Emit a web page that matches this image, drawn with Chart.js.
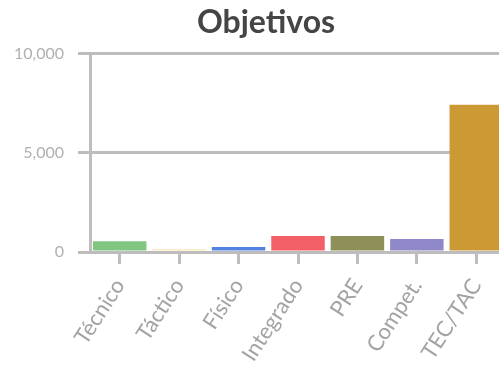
<!DOCTYPE html>
<html>
<head>
<meta charset="utf-8">
<script src="https://cdn.jsdelivr.net/npm/chart.js@4"></script>
<style>
html,body{margin:0;padding:0;background:#fff;overflow:hidden;width:499px;height:373px;}
#wrap{width:532px;height:373px;}
</style>
</head>
<body>
<div id="wrap"><canvas id="c" width="532" height="373"></canvas></div>
<script>
const categories = ["Técnico", "Táctico", "Físico", "Integrado", "PRE", "Compet.", "TEC/TAC"];
const values = [540, 140, 250, 800, 800, 650, 7420];
const barColors = ["#80c680", "#fce7b4", "#5283e2", "#f25f66", "#8f8f58", "#8f89c9", "#cd9934"];
const yTicks = [0, 5000, 10000];
const gridGray = "#bdbdbd";

new Chart(document.getElementById("c"), {
  type: "bar",
  data: {
    labels: categories,
    datasets: [{
      data: values,
      backgroundColor: barColors,
      borderWidth: 0,
      barPercentage: 0.9,
      categoryPercentage: 1.0
    }]
  },
  options: {
    responsive: false,
    animation: false,
    layout: { padding: 0 },
    plugins: {
      legend: { display: false },
      tooltip: { enabled: false },
      title: {
        display: true,
        text: "Objetivos",
        color: "#454545",
        font: { family: "Lato", size: 32, weight: "bold" },
        padding: { top: 3, bottom: 12 }
      }
    },
    scales: {
      x: {
        grid: {
          display: true,
          drawOnChartArea: false,
          offset: false,
          color: gridGray,
          lineWidth: 3,
          tickLength: 12
        },
        border: { display: false },
        ticks: {
          color: "#a3a3a3",
          font: { family: "Lato", size: 22 },
          minRotation: 57,
          maxRotation: 57,
          padding: 10
        },
        afterFit: (s) => { s.height = 121; }
      },
      y: {
        min: 0,
        max: 10000,
        afterBuildTicks: (s) => { s.ticks = yTicks.map(v => ({ value: v })); },
        grid: {
          color: gridGray,
          lineWidth: 3,
          tickLength: 12
        },
        border: { display: true, color: gridGray, width: 3 },
        ticks: {
          color: "#b0b0b0",
          font: { family: "Lato", size: 16 },
          padding: 14
        },
        afterFit: (s) => { s.width = 90; }
      },
      yRight: {
        position: "right",
        min: 0,
        max: 10000,
        grid: { display: false },
        border: { display: false },
        ticks: { display: false },
        afterFit: (s) => { s.width = 26; }
      }
    }
  }
});
</script>
</body>
</html>
